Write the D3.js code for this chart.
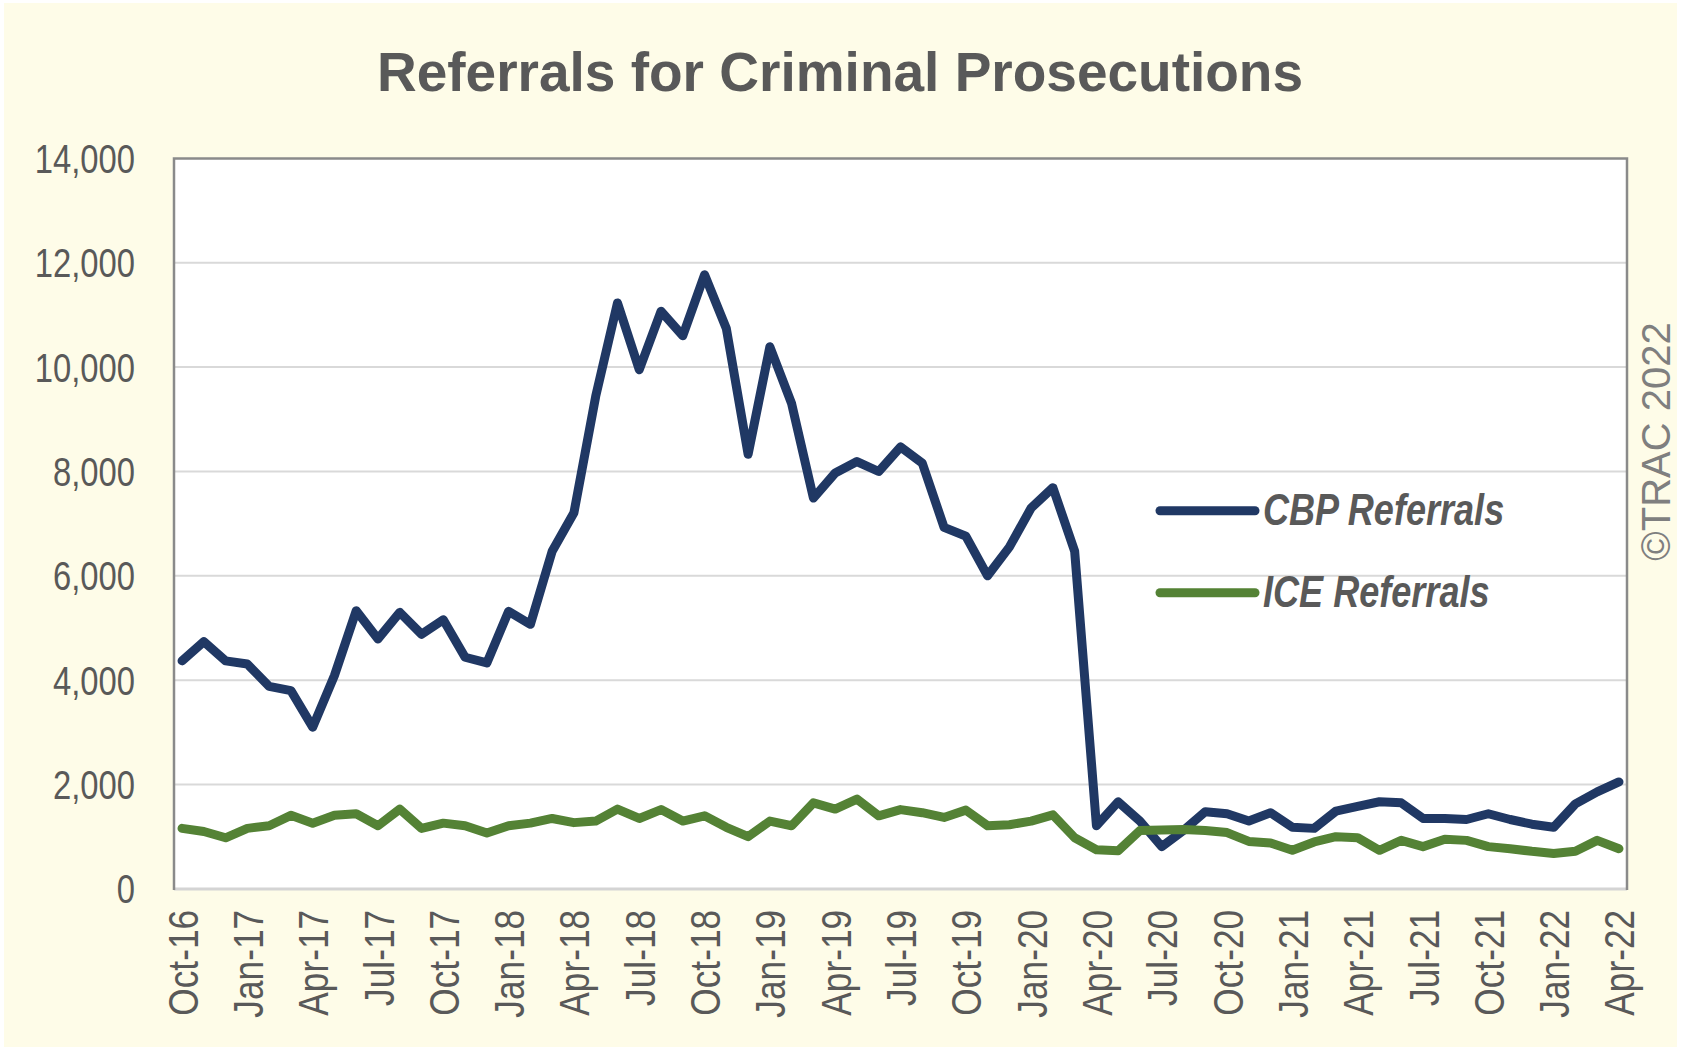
<!DOCTYPE html>
<html>
<head>
<meta charset="utf-8">
<script src="https://cdn.jsdelivr.net/npm/d3@7"></script>
<style>
  html, body { margin: 0; padding: 0; background: #ffffff; }
  svg { display: block; }
</style>
</head>
<body>
<svg id="chart" width="1682" height="1054"></svg>
<script>
const months = ["Oct-16","Nov-16","Dec-16","Jan-17","Feb-17","Mar-17","Apr-17","May-17","Jun-17","Jul-17","Aug-17","Sep-17",
  "Oct-17","Nov-17","Dec-17","Jan-18","Feb-18","Mar-18","Apr-18","May-18","Jun-18","Jul-18","Aug-18","Sep-18",
  "Oct-18","Nov-18","Dec-18","Jan-19","Feb-19","Mar-19","Apr-19","May-19","Jun-19","Jul-19","Aug-19","Sep-19",
  "Oct-19","Nov-19","Dec-19","Jan-20","Feb-20","Mar-20","Apr-20","May-20","Jun-20","Jul-20","Aug-20","Sep-20",
  "Oct-20","Nov-20","Dec-20","Jan-21","Feb-21","Mar-21","Apr-21","May-21","Jun-21","Jul-21","Aug-21","Sep-21",
  "Oct-21","Nov-21","Dec-21","Jan-22","Feb-22","Mar-22","Apr-22"];

const cbpReferrals = [4370,4740,4370,4310,3880,3800,3100,4090,5330,4790,5300,4880,
  5160,4440,4330,5320,5070,6470,7210,9440,11230,9950,11070,10600,
  11770,10740,8330,10390,9300,7490,7970,8190,8000,8470,8160,6930,
  6760,6000,6550,7300,7690,6470,1210,1670,1300,810,1120,1480,
  1440,1300,1460,1180,1160,1490,1580,1670,1650,1350,1350,1330,
  1440,1330,1240,1180,1630,1860,2050];

const iceReferrals = [1160,1100,980,1160,1210,1410,1260,1410,1440,1210,1530,1160,
  1260,1210,1070,1210,1260,1350,1270,1300,1530,1350,1520,1300,
  1400,1180,1000,1300,1210,1650,1530,1720,1400,1520,1460,1370,
  1510,1210,1230,1300,1420,980,750,730,1120,1130,1140,1120,
  1080,910,880,740,900,1000,980,740,930,810,950,930,
  810,770,720,680,720,930,770];

const xTickLabels = ["Oct-16","Jan-17","Apr-17","Jul-17","Oct-17","Jan-18","Apr-18","Jul-18","Oct-18","Jan-19","Apr-19","Jul-19",
  "Oct-19","Jan-20","Apr-20","Jul-20","Oct-20","Jan-21","Apr-21","Jul-21","Oct-21","Jan-22","Apr-22"];
const yTickValues = [0,2000,4000,6000,8000,10000,12000,14000];

const seriesNames = ["CBP Referrals","ICE Referrals"];
const seriesColors = ["#203864","#548235"];

const svg = d3.select("#chart");
const W = 1682, H = 1054;
const plot = {left: 174, right: 1627, top: 158.4, bottom: 888.9};
const FONT = "'Liberation Sans',Arial,sans-serif";
const NARROW = 0.82; // emulate Arial Narrow by horizontal compression

// background
svg.append("rect").attr("x",0).attr("y",0).attr("width",W).attr("height",H).attr("fill","#ffffff");
svg.append("rect").attr("x",4).attr("y",3).attr("width",1673).attr("height",1044).attr("fill","#fefce8");

// plot area
svg.append("rect").attr("x",plot.left).attr("y",plot.top)
  .attr("width",plot.right-plot.left).attr("height",plot.bottom-plot.top).attr("fill","#ffffff");

const x = d3.scalePoint().domain(months).range([plot.left, plot.right]).padding(0.37);
const y = d3.scaleLinear().domain([0,14000]).range([plot.bottom, plot.top]);

// gridlines
svg.append("g").selectAll("line").data(yTickValues.filter(v => v>0 && v<14000)).join("line")
  .attr("x1",plot.left).attr("x2",plot.right)
  .attr("y1",d=>y(d)).attr("y2",d=>y(d))
  .attr("stroke","#d9d9d9").attr("stroke-width",2);

// bottom axis line (light)
svg.append("line").attr("x1",plot.left).attr("x2",plot.right)
  .attr("y1",plot.bottom).attr("y2",plot.bottom)
  .attr("stroke","#d4d4d4").attr("stroke-width",3);

// border left/top/right
svg.append("path")
  .attr("d",`M${plot.left},${plot.bottom+1}V${plot.top}H${plot.right}V${plot.bottom+1}`)
  .attr("fill","none").attr("stroke","#8a8a8a").attr("stroke-width",2.5);

// y axis
const yAxis = d3.axisLeft(y).tickValues(yTickValues).tickSize(0).tickPadding(0)
  .tickFormat(d3.format(","));
const yG = svg.append("g").attr("transform",`translate(135,0)`).call(yAxis);
yG.select(".domain").remove();
yG.selectAll("text")
  .attr("font-family",FONT)
  .attr("font-size",40).attr("fill","#595959")
  .attr("x",0).attr("dy","0.35em")
  .attr("transform",`scale(${NARROW},1)`);

// x axis
const xAxis = d3.axisBottom(x).tickValues(xTickLabels).tickSize(0).tickPadding(0);
const xG = svg.append("g").attr("transform",`translate(0,${plot.bottom})`).call(xAxis);
xG.select(".domain").remove();
xG.selectAll("text")
  .attr("font-family",FONT)
  .attr("font-size",43).attr("fill","#595959")
  .attr("text-anchor","end")
  .attr("transform",`translate(0,21) rotate(-90) scale(${NARROW},1)`)
  .attr("x",0).attr("y",0).attr("dy","0.35em");

// lines
const line = d3.line().x((d,i)=>x(months[i])).y(d=>y(d));
[cbpReferrals, iceReferrals].forEach((data,k)=>{
  svg.append("path").datum(data)
    .attr("d",line).attr("fill","none")
    .attr("stroke",seriesColors[k]).attr("stroke-width",9)
    .attr("stroke-linejoin","round").attr("stroke-linecap","round");
});

// legend
const legendY = [510.7, 592.7];
seriesNames.forEach((name,k)=>{
  svg.append("line").attr("x1",1160).attr("x2",1255)
    .attr("y1",legendY[k]).attr("y2",legendY[k])
    .attr("stroke",seriesColors[k]).attr("stroke-width",9).attr("stroke-linecap","round");
  svg.append("text")
    .attr("transform",`translate(1263,${legendY[k]+14.5}) scale(${NARROW},1)`)
    .attr("font-family",FONT)
    .attr("font-size",44).attr("font-weight","bold").attr("font-style","italic")
    .attr("fill","#595959").text(name);
});

// title
svg.append("text").attr("x",840).attr("y",90.5).attr("text-anchor","middle")
  .attr("font-family",FONT)
  .attr("font-size",55).attr("font-weight","bold").attr("fill","#595959")
  .text("Referrals for Criminal Prosecutions");

// copyright
svg.append("text").attr("transform","translate(1670,441.5) rotate(-90)")
  .attr("text-anchor","middle")
  .attr("font-family",FONT)
  .attr("font-size",40).attr("fill","#7f7f7f")
  .text("©TRAC 2022");
</script>
</body>
</html>
